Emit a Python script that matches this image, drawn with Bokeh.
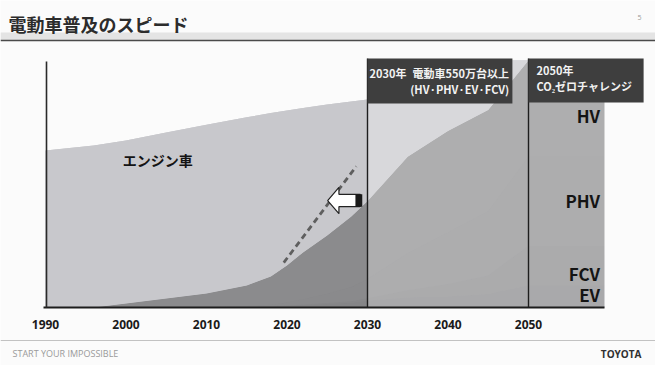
from bokeh.plotting import figure
from bokeh.models import Range1d, LinearAxis, FixedTicker, Label, ColumnDataSource
from bokeh.embed import file_html
from bokeh.resources import INLINE

# ---- data (index: 100 = full height of the chart) ----
years  = [1990, 1996, 2000, 2005, 2010, 2015, 2018, 2020, 2022, 2025, 2028, 2030, 2035, 2040, 2045, 2050, 2059.4]
ev     = [0, 0, 0.0, 0.0, 0.1, 0.3, 0.5, 0.7, 1.0, 1.4, 1.9, 2.7, 4.0, 4.5, 5.5, 9, 9]
fcv    = [0, 0, 0.0, 0.0, 0.0, 0.0, 0.0, 0.1, 0.2, 0.4, 0.6, 1.0, 3.0, 5.0, 7.5, 16, 16]
phv    = [0, 0, 0.0, 0.0, 0.1, 0.3, 0.6, 1.2, 2.1, 3.8, 5.8, 7.8, 15.0, 21.0, 26.0, 36, 36]
hv     = [0, 0, 1.6, 3.6, 5.5, 8.3, 11.5, 15.0, 19.0, 23.5, 28.5, 31.5, 39.0, 41.0, 41.0, 39, 39]
engine = [63.6, 65.6, 66.0, 67.2, 68.3, 68.1, 66.1, 62.8, 58.5, 53.1, 46.6, 41.2, 31.0, 25.5, 20.0, 0, 0]

# faster electrification scenario (dashed)
fast_years = [2019.6, 2028.6]
fast_vals  = [18.2, 57.1]

tick_years = [1990, 2000, 2010, 2020, 2030, 2040, 2050]
milestones = [2030, 2050]

segment_names = ["HV", "PHV", "FCV", "EV"]
segment_label_y = [77.7, 43.3, 13.8, 5.3]

# ---- canvas geometry ----
W, H = 655, 365
PX_PER_YEAR = 8.05
PX_PER_UNIT = 2.47
X0_PX, Y0_PX = 45.0, 307.0          # where 1990 / value 0 sit on the canvas
x_start = 1990 - X0_PX / PX_PER_YEAR
x_end = x_start + W / PX_PER_YEAR
y_end = Y0_PX / PX_PER_UNIT
y_start = -(H - Y0_PX) / PX_PER_UNIT
chart_end = years[-1]

def cx(px):
    return x_start + px / PX_PER_YEAR

def cy(py):
    return (Y0_PX - py) / PX_PER_UNIT

JP = "Noto Sans CJK JP"
LAT = "Open Sans"

p = figure(width=W, height=H, x_range=Range1d(x_start, x_end), y_range=Range1d(y_start, y_end),
           output_backend="svg", toolbar_location=None, min_border=0,
           x_axis_location=None, y_axis_location=None,
           background_fill_color="#fbfbfb", border_fill_color="#fbfbfb", outline_line_color=None)
p.grid.grid_line_color = None

# ---- stacked areas ----
electrified = [a + b + c + d for a, b, c, d in zip(ev, fcv, phv, hv)]
total = [e + g for e, g in zip(electrified, engine)]
src = ColumnDataSource(dict(year=years, EV=ev, FCV=fcv, PHV=phv, HV=hv, Engine=engine,
                            elec=electrified, total=total, zero=[0] * len(years)))

# solid under-layers so the seams between stacked bands stay hidden
p.varea(x="year", y1="zero", y2="total", source=src, fill_color="#c8c8cc")
p.varea(x="year", y1="zero", y2="elec", source=src, fill_color="#89898b")
p.varea_stack(stackers=["EV", "FCV", "PHV", "HV", "Engine"], x="year", source=src,
              color=["#858587", "#878789", "#8a8a8c", "#8b8b8d", "#c8c8cc"])

# lighter wash over the outlook period
p.quad(left=[milestones[0]], right=[chart_end], bottom=[0], top=[100],
       fill_color="white", fill_alpha=0.3, line_color=None)

# dashed faster scenario
p.line(fast_years, fast_vals, line_color="#5f5f5f", line_width=2.8, line_dash="6 4")

# block arrow pointing at the dashed curve
tip_x, tip_y = 2025.05, 43.3
head_len, head_half, shaft_half, shaft_end = 1.4, 5.3, 2.5, 2029.1
p.patch([tip_x, tip_x + head_len, tip_x + head_len, shaft_end, shaft_end, tip_x + head_len, tip_x + head_len],
        [tip_y, tip_y + head_half, tip_y + shaft_half, tip_y + shaft_half, tip_y - shaft_half,
         tip_y - shaft_half, tip_y - head_half],
        fill_color="white", line_color="#222222", line_width=1.2)
p.quad(left=[shaft_end - 0.6], right=[shaft_end + 0.25], bottom=[tip_y - shaft_half], top=[tip_y + shaft_half],
       fill_color="#1a1a1a", line_color=None)

# milestone verticals
banner_top = 100.8
p.segment(x0=milestones, y0=[0, 0], x1=milestones, y1=[banner_top, banner_top],
          line_color="#1e1e1e", line_width=1.4)

# axes drawn inside the canvas
xaxis = LinearAxis(fixed_location=0, ticker=FixedTicker(ticks=tick_years), bounds=(1989.8, chart_end),
                   axis_line_width=2.2, axis_line_color="#1c1c1c",
                   major_tick_line_color=None, minor_tick_line_color=None,
                   major_label_text_font_size="12px", major_label_text_font_style="bold",
                   major_label_text_color="#1a1a1a", major_label_standoff=6,
                   major_label_text_font=LAT)
p.add_layout(xaxis, "below")
yaxis = LinearAxis(fixed_location=1990.1, bounds=(0, 99.5), ticker=FixedTicker(ticks=[]),
                   axis_line_width=1.6, axis_line_color="#2a2a2a",
                   major_tick_line_color=None, minor_tick_line_color=None,
                   major_label_text_font_size="0px")
p.add_layout(yaxis, "left")

# ---- banners ----
banners_left = [2030.0, 2050.0]
banners_right = [2048.0, 2064.3]
banners_bottom = [82.6, 83.0]
p.quad(left=banners_left, right=banners_right, bottom=banners_bottom, top=[banner_top, banner_top],
       fill_color="#3e3e3e", line_color=None)

def label(x, y, text, size, color, font=JP, bold=True, align="left", baseline="middle"):
    p.add_layout(Label(x=x, y=y, text=text, text_font=font, text_font_size=f"{size}px",
                       text_font_style="bold" if bold else "normal", text_color=color,
                       text_align=align, text_baseline=baseline))

label(2030.25, 95.0, "2030年", 11, "#f2f2f2")
label(2035.6, 95.0, "電動車550万台以上", 11, "#f2f2f2")
label(2035.3, 88.6, "(HV·PHV·EV·FCV)", 11, "#f2f2f2")
label(2051.0, 96.0, "2050年", 11, "#f2f2f2")
label(2051.0, 89.6, "CO₂ゼロチャレンジ", 11, "#f2f2f2")

# segment names in the 2050 column
for name, yv in zip(segment_names, segment_label_y):
    label(2058.9, yv, name, 17, "#141414", align="right")

label(1999.6, 59.9, "エンジン車", 14, "#141414")

# ---- slide header / footer ----
p.quad(left=[cx(0)], right=[cx(W)], bottom=[cy(40)], top=[cy(32)], fill_color="#e4e4e4", line_color=None)
p.segment(x0=[cx(0)], y0=[cy(40)], x1=[cx(W)], y1=[cy(40)], line_color="#4a4a4a", line_width=1.6)
label(cx(8), cy(23), "電動車普及のスピード", 18, "#2c2c2c")
label(cx(637), cy(17), "5", 7, "#9a9a9a", font=LAT, bold=False)
p.segment(x0=[cx(0)], y0=[cy(340)], x1=[cx(W)], y1=[cy(340)], line_color="#c2c2c2", line_width=1)
label(cx(12), cy(353), "START YOUR IMPOSSIBLE", 9, "#9a9a9a", font=LAT, bold=False)
label(cx(641), cy(353), "TOYOTA", 10, "#303030", font=LAT, align="right")

open("out.html", "w").write(file_html(p, INLINE))
